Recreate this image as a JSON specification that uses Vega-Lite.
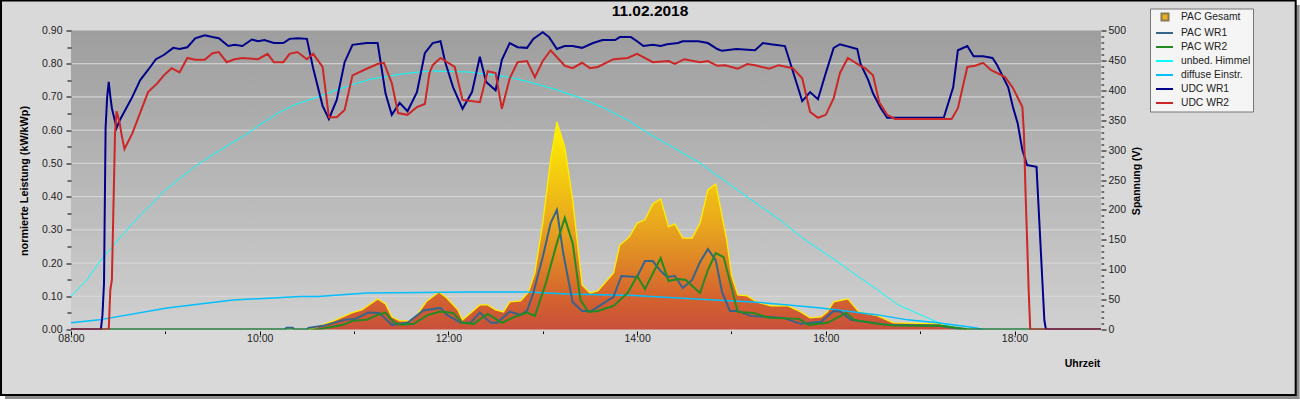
{"$schema":"https://vega.github.io/schema/vega-lite/v6.json","width":1030,"height":299,"autosize":{"type":"none"},"padding":{"left":71,"top":30.5,"right":199,"bottom":70.5},"background":"#ffffff",
"config":{"view":{"stroke":null},"axis":{"domain":false,"grid":false,"tickColor":"#000000","labelColor":"#222222","labelFont":"Liberation Sans","labelFontSize":10.5,"titleFont":"Liberation Sans","titleFontSize":10.5,"titleFontWeight":"bold","titleColor":"#000000","labelOverlap":false,"labelBound":false,"labelFlush":false,"tickCount":100}},
"datasets":{
"grid":[{"g":0.1},{"g":0.2},{"g":0.3},{"g":0.4},{"g":0.5},{"g":0.6},{"g":0.7},{"g":0.8}],
"names":[{"s":"PAC Gesamt"},{"s":"PAC WR1"},{"s":"PAC WR2"},{"s":"unbed. Himmel"},{"s":"diffuse Einstr."},{"s":"UDC WR1"},{"s":"UDC WR2"}],
"pac":[{"t":"2018-02-11T10:32","v":0},{"t":"2018-02-11T10:40","v":0.014},{"t":"2018-02-11T10:47","v":0.026},{"t":"2018-02-11T10:59","v":0.051},{"t":"2018-02-11T11:05","v":0.059},{"t":"2018-02-11T11:15","v":0.092},{"t":"2018-02-11T11:20","v":0.077},{"t":"2018-02-11T11:24","v":0.038},{"t":"2018-02-11T11:29","v":0.026},{"t":"2018-02-11T11:36","v":0.026},{"t":"2018-02-11T11:40","v":0.044},{"t":"2018-02-11T11:46","v":0.084},{"t":"2018-02-11T11:54","v":0.113},{"t":"2018-02-11T11:59","v":0.095},{"t":"2018-02-11T12:06","v":0.059},{"t":"2018-02-11T12:09","v":0.029},{"t":"2018-02-11T12:16","v":0.057},{"t":"2018-02-11T12:20","v":0.074},{"t":"2018-02-11T12:25","v":0.074},{"t":"2018-02-11T12:30","v":0.059},{"t":"2018-02-11T12:35","v":0.053},{"t":"2018-02-11T12:39","v":0.083},{"t":"2018-02-11T12:46","v":0.086},{"t":"2018-02-11T12:51","v":0.113},{"t":"2018-02-11T12:55","v":0.17},{"t":"2018-02-11T13:00","v":0.32},{"t":"2018-02-11T13:05","v":0.51},{"t":"2018-02-11T13:09","v":0.625},{"t":"2018-02-11T13:14","v":0.55},{"t":"2018-02-11T13:19","v":0.39},{"t":"2018-02-11T13:25","v":0.134},{"t":"2018-02-11T13:30","v":0.11},{"t":"2018-02-11T13:35","v":0.116},{"t":"2018-02-11T13:45","v":0.17},{"t":"2018-02-11T13:49","v":0.254},{"t":"2018-02-11T13:55","v":0.278},{"t":"2018-02-11T14:00","v":0.32},{"t":"2018-02-11T14:05","v":0.33},{"t":"2018-02-11T14:10","v":0.378},{"t":"2018-02-11T14:15","v":0.393},{"t":"2018-02-11T14:20","v":0.309},{"t":"2018-02-11T14:24","v":0.318},{"t":"2018-02-11T14:29","v":0.275},{"t":"2018-02-11T14:35","v":0.275},{"t":"2018-02-11T14:40","v":0.32},{"t":"2018-02-11T14:45","v":0.42},{"t":"2018-02-11T14:50","v":0.438},{"t":"2018-02-11T14:57","v":0.269},{"t":"2018-02-11T15:00","v":0.164},{"t":"2018-02-11T15:04","v":0.104},{"t":"2018-02-11T15:10","v":0.101},{"t":"2018-02-11T15:16","v":0.083},{"t":"2018-02-11T15:25","v":0.071},{"t":"2018-02-11T15:36","v":0.071},{"t":"2018-02-11T15:44","v":0.053},{"t":"2018-02-11T15:50","v":0.035},{"t":"2018-02-11T15:57","v":0.038},{"t":"2018-02-11T16:01","v":0.053},{"t":"2018-02-11T16:05","v":0.083},{"t":"2018-02-11T16:14","v":0.092},{"t":"2018-02-11T16:21","v":0.053},{"t":"2018-02-11T16:33","v":0.041},{"t":"2018-02-11T16:43","v":0.02},{"t":"2018-02-11T17:13","v":0.017},{"t":"2018-02-11T17:17","v":0.008},{"t":"2018-02-11T17:26","v":0.002},{"t":"2018-02-11T17:32","v":0}],
"wr1":[{"t":"2018-02-11T08:00","v":0},{"t":"2018-02-11T10:16","v":0},{"t":"2018-02-11T10:17","v":0.005},{"t":"2018-02-11T10:21","v":0.005},{"t":"2018-02-11T10:22","v":0},{"t":"2018-02-11T10:30","v":0},{"t":"2018-02-11T10:31","v":0.005},{"t":"2018-02-11T10:40","v":0.011},{"t":"2018-02-11T10:54","v":0.029},{"t":"2018-02-11T11:01","v":0.032},{"t":"2018-02-11T11:09","v":0.051},{"t":"2018-02-11T11:16","v":0.05},{"t":"2018-02-11T11:24","v":0.014},{"t":"2018-02-11T11:34","v":0.02},{"t":"2018-02-11T11:44","v":0.057},{"t":"2018-02-11T11:55","v":0.065},{"t":"2018-02-11T11:59","v":0.044},{"t":"2018-02-11T12:08","v":0.02},{"t":"2018-02-11T12:14","v":0.02},{"t":"2018-02-11T12:20","v":0.051},{"t":"2018-02-11T12:27","v":0.02},{"t":"2018-02-11T12:31","v":0.02},{"t":"2018-02-11T12:39","v":0.054},{"t":"2018-02-11T12:46","v":0.044},{"t":"2018-02-11T12:50","v":0.056},{"t":"2018-02-11T12:54","v":0.11},{"t":"2018-02-11T13:00","v":0.218},{"t":"2018-02-11T13:05","v":0.32},{"t":"2018-02-11T13:09","v":0.36},{"t":"2018-02-11T13:13","v":0.23},{"t":"2018-02-11T13:19","v":0.083},{"t":"2018-02-11T13:25","v":0.056},{"t":"2018-02-11T13:31","v":0.056},{"t":"2018-02-11T13:45","v":0.098},{"t":"2018-02-11T13:50","v":0.161},{"t":"2018-02-11T14:00","v":0.158},{"t":"2018-02-11T14:05","v":0.206},{"t":"2018-02-11T14:10","v":0.206},{"t":"2018-02-11T14:15","v":0.176},{"t":"2018-02-11T14:19","v":0.158},{"t":"2018-02-11T14:24","v":0.161},{"t":"2018-02-11T14:29","v":0.125},{"t":"2018-02-11T14:35","v":0.149},{"t":"2018-02-11T14:40","v":0.203},{"t":"2018-02-11T14:45","v":0.242},{"t":"2018-02-11T14:50","v":0.209},{"t":"2018-02-11T14:54","v":0.113},{"t":"2018-02-11T14:59","v":0.056},{"t":"2018-02-11T15:04","v":0.056},{"t":"2018-02-11T15:12","v":0.041},{"t":"2018-02-11T15:33","v":0.035},{"t":"2018-02-11T15:44","v":0.017},{"t":"2018-02-11T15:57","v":0.023},{"t":"2018-02-11T16:05","v":0.056},{"t":"2018-02-11T16:09","v":0.054},{"t":"2018-02-11T16:16","v":0.029},{"t":"2018-02-11T16:39","v":0.014},{"t":"2018-02-11T17:13","v":0.011},{"t":"2018-02-11T17:24","v":0.002},{"t":"2018-02-11T17:30","v":0},{"t":"2018-02-11T18:55","v":0}],
"wr2":[{"t":"2018-02-11T08:00","v":0},{"t":"2018-02-11T10:37","v":0},{"t":"2018-02-11T10:53","v":0.014},{"t":"2018-02-11T10:59","v":0.026},{"t":"2018-02-11T11:08","v":0.029},{"t":"2018-02-11T11:15","v":0.044},{"t":"2018-02-11T11:20","v":0.051},{"t":"2018-02-11T11:25","v":0.023},{"t":"2018-02-11T11:29","v":0.014},{"t":"2018-02-11T11:38","v":0.017},{"t":"2018-02-11T11:47","v":0.044},{"t":"2018-02-11T11:55","v":0.054},{"t":"2018-02-11T12:03","v":0.05},{"t":"2018-02-11T12:09","v":0.02},{"t":"2018-02-11T12:16","v":0.017},{"t":"2018-02-11T12:25","v":0.047},{"t":"2018-02-11T12:34","v":0.02},{"t":"2018-02-11T12:41","v":0.036},{"t":"2018-02-11T12:50","v":0.051},{"t":"2018-02-11T12:55","v":0.041},{"t":"2018-02-11T13:02","v":0.14},{"t":"2018-02-11T13:09","v":0.26},{"t":"2018-02-11T13:14","v":0.336},{"t":"2018-02-11T13:19","v":0.26},{"t":"2018-02-11T13:24","v":0.089},{"t":"2018-02-11T13:29","v":0.053},{"t":"2018-02-11T13:35","v":0.056},{"t":"2018-02-11T13:45","v":0.071},{"t":"2018-02-11T13:54","v":0.11},{"t":"2018-02-11T14:00","v":0.161},{"t":"2018-02-11T14:05","v":0.122},{"t":"2018-02-11T14:15","v":0.215},{"t":"2018-02-11T14:20","v":0.146},{"t":"2018-02-11T14:26","v":0.152},{"t":"2018-02-11T14:31","v":0.149},{"t":"2018-02-11T14:40","v":0.11},{"t":"2018-02-11T14:45","v":0.179},{"t":"2018-02-11T14:50","v":0.23},{"t":"2018-02-11T14:55","v":0.218},{"t":"2018-02-11T15:04","v":0.053},{"t":"2018-02-11T15:14","v":0.05},{"t":"2018-02-11T15:24","v":0.035},{"t":"2018-02-11T15:43","v":0.032},{"t":"2018-02-11T15:49","v":0.014},{"t":"2018-02-11T16:01","v":0.02},{"t":"2018-02-11T16:13","v":0.05},{"t":"2018-02-11T16:18","v":0.029},{"t":"2018-02-11T16:33","v":0.017},{"t":"2018-02-11T16:43","v":0.012},{"t":"2018-02-11T17:13","v":0.011},{"t":"2018-02-11T17:28","v":0.002},{"t":"2018-02-11T17:30","v":0},{"t":"2018-02-11T18:55","v":0}],
"sky":[{"t":"2018-02-11T08:00","v":0.1},{"t":"2018-02-11T08:10","v":0.149},{"t":"2018-02-11T08:20","v":0.215},{"t":"2018-02-11T08:40","v":0.324},{"t":"2018-02-11T09:00","v":0.42},{"t":"2018-02-11T09:20","v":0.495},{"t":"2018-02-11T09:30","v":0.525},{"t":"2018-02-11T09:40","v":0.555},{"t":"2018-02-11T09:53","v":0.592},{"t":"2018-02-11T10:00","v":0.616},{"t":"2018-02-11T10:12","v":0.652},{"t":"2018-02-11T10:22","v":0.676},{"t":"2018-02-11T10:37","v":0.7},{"t":"2018-02-11T10:47","v":0.718},{"t":"2018-02-11T11:00","v":0.739},{"t":"2018-02-11T11:11","v":0.754},{"t":"2018-02-11T11:30","v":0.769},{"t":"2018-02-11T11:41","v":0.775},{"t":"2018-02-11T11:50","v":0.778},{"t":"2018-02-11T12:13","v":0.775},{"t":"2018-02-11T12:30","v":0.766},{"t":"2018-02-11T12:41","v":0.757},{"t":"2018-02-11T12:54","v":0.742},{"t":"2018-02-11T13:09","v":0.721},{"t":"2018-02-11T13:24","v":0.697},{"t":"2018-02-11T13:39","v":0.667},{"t":"2018-02-11T13:54","v":0.63},{"t":"2018-02-11T14:06","v":0.594},{"t":"2018-02-11T14:40","v":0.501},{"t":"2018-02-11T15:10","v":0.399},{"t":"2018-02-11T15:30","v":0.333},{"t":"2018-02-11T15:47","v":0.269},{"t":"2018-02-11T16:06","v":0.209},{"t":"2018-02-11T16:21","v":0.158},{"t":"2018-02-11T16:33","v":0.119},{"t":"2018-02-11T16:46","v":0.074},{"t":"2018-02-11T16:59","v":0.047},{"t":"2018-02-11T17:09","v":0.026},{"t":"2018-02-11T17:18","v":0.011},{"t":"2018-02-11T17:25","v":0}],
"diff":[{"t":"2018-02-11T08:00","v":0.02},{"t":"2018-02-11T08:18","v":0.029},{"t":"2018-02-11T09:01","v":0.065},{"t":"2018-02-11T09:43","v":0.089},{"t":"2018-02-11T10:26","v":0.099},{"t":"2018-02-11T10:37","v":0.099},{"t":"2018-02-11T11:08","v":0.11},{"t":"2018-02-11T11:42","v":0.111},{"t":"2018-02-11T12:12","v":0.113},{"t":"2018-02-11T12:50","v":0.113},{"t":"2018-02-11T13:16","v":0.107},{"t":"2018-02-11T13:58","v":0.102},{"t":"2018-02-11T14:26","v":0.095},{"t":"2018-02-11T14:55","v":0.087},{"t":"2018-02-11T15:14","v":0.083},{"t":"2018-02-11T15:36","v":0.074},{"t":"2018-02-11T15:57","v":0.065},{"t":"2018-02-11T16:18","v":0.053},{"t":"2018-02-11T16:33","v":0.044},{"t":"2018-02-11T16:52","v":0.029},{"t":"2018-02-11T17:11","v":0.02},{"t":"2018-02-11T17:35","v":0.005},{"t":"2018-02-11T17:40","v":0}],
"udc1":[{"t":"2018-02-11T08:00","v":0},{"t":"2018-02-11T08:19","v":0},{"t":"2018-02-11T08:20","v":24},{"t":"2018-02-11T08:21","v":78},{"t":"2018-02-11T08:22","v":337},{"t":"2018-02-11T08:23","v":389},{"t":"2018-02-11T08:24","v":414},{"t":"2018-02-11T08:25","v":390},{"t":"2018-02-11T08:26","v":370},{"t":"2018-02-11T08:29","v":337},{"t":"2018-02-11T08:31","v":350},{"t":"2018-02-11T08:39","v":389},{"t":"2018-02-11T08:44","v":417},{"t":"2018-02-11T08:49","v":434},{"t":"2018-02-11T08:54","v":452},{"t":"2018-02-11T08:59","v":459},{"t":"2018-02-11T09:05","v":471},{"t":"2018-02-11T09:09","v":469},{"t":"2018-02-11T09:14","v":472},{"t":"2018-02-11T09:19","v":487},{"t":"2018-02-11T09:25","v":492},{"t":"2018-02-11T09:30","v":489},{"t":"2018-02-11T09:34","v":487},{"t":"2018-02-11T09:40","v":474},{"t":"2018-02-11T09:44","v":476},{"t":"2018-02-11T09:49","v":474},{"t":"2018-02-11T09:55","v":485},{"t":"2018-02-11T09:59","v":482},{"t":"2018-02-11T10:03","v":484},{"t":"2018-02-11T10:09","v":479},{"t":"2018-02-11T10:15","v":479},{"t":"2018-02-11T10:19","v":486},{"t":"2018-02-11T10:24","v":487},{"t":"2018-02-11T10:30","v":486},{"t":"2018-02-11T10:34","v":437},{"t":"2018-02-11T10:40","v":374},{"t":"2018-02-11T10:44","v":352},{"t":"2018-02-11T10:49","v":384},{"t":"2018-02-11T10:54","v":447},{"t":"2018-02-11T10:59","v":476},{"t":"2018-02-11T11:08","v":479},{"t":"2018-02-11T11:15","v":479},{"t":"2018-02-11T11:20","v":395},{"t":"2018-02-11T11:24","v":359},{"t":"2018-02-11T11:29","v":379},{"t":"2018-02-11T11:34","v":365},{"t":"2018-02-11T11:40","v":397},{"t":"2018-02-11T11:45","v":462},{"t":"2018-02-11T11:50","v":479},{"t":"2018-02-11T11:55","v":482},{"t":"2018-02-11T11:58","v":447},{"t":"2018-02-11T12:03","v":405},{"t":"2018-02-11T12:09","v":369},{"t":"2018-02-11T12:15","v":397},{"t":"2018-02-11T12:20","v":456},{"t":"2018-02-11T12:24","v":414},{"t":"2018-02-11T12:30","v":400},{"t":"2018-02-11T12:34","v":451},{"t":"2018-02-11T12:39","v":479},{"t":"2018-02-11T12:44","v":472},{"t":"2018-02-11T12:50","v":471},{"t":"2018-02-11T12:54","v":486},{"t":"2018-02-11T13:00","v":497},{"t":"2018-02-11T13:04","v":489},{"t":"2018-02-11T13:09","v":469},{"t":"2018-02-11T13:14","v":474},{"t":"2018-02-11T13:19","v":474},{"t":"2018-02-11T13:25","v":471},{"t":"2018-02-11T13:32","v":479},{"t":"2018-02-11T13:38","v":484},{"t":"2018-02-11T13:46","v":484},{"t":"2018-02-11T13:49","v":489},{"t":"2018-02-11T13:56","v":489},{"t":"2018-02-11T14:00","v":482},{"t":"2018-02-11T14:04","v":474},{"t":"2018-02-11T14:10","v":476},{"t":"2018-02-11T14:15","v":474},{"t":"2018-02-11T14:19","v":477},{"t":"2018-02-11T14:26","v":479},{"t":"2018-02-11T14:29","v":482},{"t":"2018-02-11T14:39","v":482},{"t":"2018-02-11T14:45","v":479},{"t":"2018-02-11T14:51","v":469},{"t":"2018-02-11T14:54","v":466},{"t":"2018-02-11T15:03","v":469},{"t":"2018-02-11T15:15","v":467},{"t":"2018-02-11T15:20","v":479},{"t":"2018-02-11T15:25","v":477},{"t":"2018-02-11T15:34","v":474},{"t":"2018-02-11T15:45","v":382},{"t":"2018-02-11T15:50","v":397},{"t":"2018-02-11T15:55","v":385},{"t":"2018-02-11T16:00","v":429},{"t":"2018-02-11T16:05","v":471},{"t":"2018-02-11T16:09","v":477},{"t":"2018-02-11T16:20","v":469},{"t":"2018-02-11T16:22","v":445},{"t":"2018-02-11T16:27","v":417},{"t":"2018-02-11T16:30","v":395},{"t":"2018-02-11T16:35","v":370},{"t":"2018-02-11T16:39","v":354},{"t":"2018-02-11T17:15","v":354},{"t":"2018-02-11T17:21","v":405},{"t":"2018-02-11T17:24","v":467},{"t":"2018-02-11T17:30","v":474},{"t":"2018-02-11T17:34","v":457},{"t":"2018-02-11T17:40","v":457},{"t":"2018-02-11T17:46","v":454},{"t":"2018-02-11T17:49","v":442},{"t":"2018-02-11T17:56","v":405},{"t":"2018-02-11T17:59","v":372},{"t":"2018-02-11T18:02","v":345},{"t":"2018-02-11T18:05","v":300},{"t":"2018-02-11T18:08","v":275},{"t":"2018-02-11T18:14","v":272},{"t":"2018-02-11T18:18","v":66},{"t":"2018-02-11T18:19","v":15},{"t":"2018-02-11T18:20","v":0},{"t":"2018-02-11T18:55","v":0}],
"udc2":[{"t":"2018-02-11T08:00","v":0},{"t":"2018-02-11T08:24","v":0},{"t":"2018-02-11T08:25","v":66},{"t":"2018-02-11T08:26","v":83},{"t":"2018-02-11T08:28","v":328},{"t":"2018-02-11T08:29","v":365},{"t":"2018-02-11T08:31","v":345},{"t":"2018-02-11T08:32","v":328},{"t":"2018-02-11T08:34","v":302},{"t":"2018-02-11T08:39","v":328},{"t":"2018-02-11T08:49","v":397},{"t":"2018-02-11T08:55","v":412},{"t":"2018-02-11T08:59","v":425},{"t":"2018-02-11T09:04","v":437},{"t":"2018-02-11T09:09","v":430},{"t":"2018-02-11T09:14","v":454},{"t":"2018-02-11T09:19","v":451},{"t":"2018-02-11T09:25","v":451},{"t":"2018-02-11T09:30","v":462},{"t":"2018-02-11T09:34","v":464},{"t":"2018-02-11T09:39","v":447},{"t":"2018-02-11T09:44","v":452},{"t":"2018-02-11T09:49","v":454},{"t":"2018-02-11T09:59","v":452},{"t":"2018-02-11T10:05","v":461},{"t":"2018-02-11T10:09","v":447},{"t":"2018-02-11T10:15","v":447},{"t":"2018-02-11T10:19","v":461},{"t":"2018-02-11T10:24","v":464},{"t":"2018-02-11T10:30","v":452},{"t":"2018-02-11T10:34","v":461},{"t":"2018-02-11T10:40","v":439},{"t":"2018-02-11T10:44","v":355},{"t":"2018-02-11T10:49","v":355},{"t":"2018-02-11T10:54","v":367},{"t":"2018-02-11T10:59","v":425},{"t":"2018-02-11T11:08","v":436},{"t":"2018-02-11T11:15","v":444},{"t":"2018-02-11T11:19","v":446},{"t":"2018-02-11T11:24","v":412},{"t":"2018-02-11T11:28","v":362},{"t":"2018-02-11T11:34","v":359},{"t":"2018-02-11T11:40","v":372},{"t":"2018-02-11T11:45","v":377},{"t":"2018-02-11T11:48","v":429},{"t":"2018-02-11T11:50","v":442},{"t":"2018-02-11T11:55","v":454},{"t":"2018-02-11T12:04","v":439},{"t":"2018-02-11T12:09","v":384},{"t":"2018-02-11T12:20","v":380},{"t":"2018-02-11T12:25","v":432},{"t":"2018-02-11T12:30","v":429},{"t":"2018-02-11T12:34","v":369},{"t":"2018-02-11T12:39","v":420},{"t":"2018-02-11T12:44","v":447},{"t":"2018-02-11T12:50","v":449},{"t":"2018-02-11T12:55","v":422},{"t":"2018-02-11T13:00","v":449},{"t":"2018-02-11T13:05","v":467},{"t":"2018-02-11T13:14","v":441},{"t":"2018-02-11T13:19","v":437},{"t":"2018-02-11T13:25","v":446},{"t":"2018-02-11T13:30","v":437},{"t":"2018-02-11T13:35","v":439},{"t":"2018-02-11T13:45","v":452},{"t":"2018-02-11T13:54","v":454},{"t":"2018-02-11T14:00","v":461},{"t":"2018-02-11T14:10","v":447},{"t":"2018-02-11T14:20","v":449},{"t":"2018-02-11T14:24","v":444},{"t":"2018-02-11T14:30","v":452},{"t":"2018-02-11T14:40","v":447},{"t":"2018-02-11T14:45","v":449},{"t":"2018-02-11T14:51","v":441},{"t":"2018-02-11T14:56","v":442},{"t":"2018-02-11T15:04","v":436},{"t":"2018-02-11T15:10","v":444},{"t":"2018-02-11T15:15","v":442},{"t":"2018-02-11T15:24","v":436},{"t":"2018-02-11T15:30","v":442},{"t":"2018-02-11T15:39","v":437},{"t":"2018-02-11T15:45","v":420},{"t":"2018-02-11T15:50","v":364},{"t":"2018-02-11T15:55","v":354},{"t":"2018-02-11T16:00","v":359},{"t":"2018-02-11T16:05","v":387},{"t":"2018-02-11T16:09","v":429},{"t":"2018-02-11T16:14","v":454},{"t":"2018-02-11T16:22","v":441},{"t":"2018-02-11T16:25","v":437},{"t":"2018-02-11T16:30","v":425},{"t":"2018-02-11T16:34","v":380},{"t":"2018-02-11T16:39","v":359},{"t":"2018-02-11T16:44","v":352},{"t":"2018-02-11T17:20","v":352},{"t":"2018-02-11T17:24","v":370},{"t":"2018-02-11T17:30","v":439},{"t":"2018-02-11T17:35","v":441},{"t":"2018-02-11T17:40","v":446},{"t":"2018-02-11T17:45","v":434},{"t":"2018-02-11T17:54","v":422},{"t":"2018-02-11T17:59","v":404},{"t":"2018-02-11T18:05","v":372},{"t":"2018-02-11T18:06","v":328},{"t":"2018-02-11T18:07","v":230},{"t":"2018-02-11T18:08","v":150},{"t":"2018-02-11T18:09","v":66},{"t":"2018-02-11T18:10","v":0},{"t":"2018-02-11T18:55","v":0}]
},
"resolve":{"scale":{"y":"independent"}},
"layer":[
{"layer":[
{"data":{"values":[{}]},"mark":{"type":"rect","color":"#8c8c8c"},"encoding":{
"x":{"datum":{"year":2018,"month":2,"date":11,"hours":7,"minutes":18},"type":"temporal"},
"x2":{"datum":{"year":2018,"month":2,"date":11,"hours":21,"minutes":1,"seconds":18}},
"y":{"datum":0.977,"type":"quantitative"},
"y2":{"datum":-0.209}}},
{"data":{"values":[{}]},"mark":{"type":"rect","color":"#d9d9d9","stroke":"#000000","strokeWidth":2},"encoding":{"x":{"datum":{"year":2018,"month":2,"date":11,"hours":7,"minutes":15,"seconds":30},"type":"temporal"},"x2":{"datum":{"year":2018,"month":2,"date":11,"hours":20,"minutes":58,"seconds":48}},"y":{"datum":0.99,"type":"quantitative"},"y2":{"datum":-0.197}}},
{"data":{"values":[{"title":"11.02.2018"}]},"mark":{"type":"text","font":"Liberation Sans","fontSize":15.5,"fontWeight":"bold","color":"#000000","align":"center","baseline":"alphabetic"},"encoding":{"text":{"field":"title","type":"nominal"},"x":{"datum":{"year":2018,"month":2,"date":11,"hours":14,"minutes":8,"seconds":12},"type":"temporal"},"y":{"datum":0.9437,"type":"quantitative"}}},
{"data":{"values":[{}]},"mark":{"type":"rect","color":{"gradient":"linear","x1":0,"y1":0,"x2":0,"y2":1,"stops":[{"offset":0,"color":"#9e9e9e"},{"offset":1,"color":"#d0d0d0"}]}},"encoding":{"x":{"datum":{"year":2018,"month":2,"date":11,"hours":8},"type":"temporal"},"x2":{"datum":{"year":2018,"month":2,"date":11,"hours":18,"minutes":55}},"y":{"datum":0.9,"type":"quantitative"},"y2":{"datum":0}}},
{"data":{"name":"grid"},"mark":{"type":"rule","color":"#d9d9d9","strokeWidth":1},"encoding":{"y":{"field":"g","type":"quantitative","title":"normierte Leistung (kW/kWp)","scale":{"domain":[0,0.9],"nice":false,"zero":false},"axis":{"zindex":1,"orient":"left","values":[0,0.05,0.1,0.15,0.2,0.25,0.3,0.35,0.4,0.45,0.5,0.55,0.6,0.65,0.7,0.75,0.8,0.85,0.9],"labelExpr":"round(datum.value*100)%10==0 ? format(datum.value,'.2f') : ''","tickSize":{"condition":{"test":"round(datum.value*100)%10==0","value":5},"value":4},"labelPadding":4,"titleX":-42,"titleY":150,"titleFontSize":10.8}}}},
{"data":{"name":"pac"},"mark":{"type":"area","opacity":1,"color":{"gradient":"linear","x1":0,"y1":0,"x2":0,"y2":1,"stops":[{"offset":0,"color":"#fff200"},{"offset":0.5,"color":"#e8a61e"},{"offset":0.85,"color":"#d4622f"},{"offset":1,"color":"#c8503a"}]},"line":{"color":"#ffee00","strokeWidth":1.3}},"encoding":{"x":{"field":"t","type":"temporal","title":"Uhrzeit","scale":{"domain":["2018-02-11T08:00:00","2018-02-11T18:55:00"]},"axis":{"zindex":1,"values":["2018-02-11T08:00:00","2018-02-11T09:00:00","2018-02-11T10:00:00","2018-02-11T11:00:00","2018-02-11T12:00:00","2018-02-11T13:00:00","2018-02-11T14:00:00","2018-02-11T15:00:00","2018-02-11T16:00:00","2018-02-11T17:00:00","2018-02-11T18:00:00"],"labelExpr":"hours(datum.value)%2==0 ? timeFormat(datum.value,'%H:%M') : ''","tickSize":{"condition":{"test":"hours(datum.value)%2==0","value":4},"value":2.5},"offset":1.5,"labelPadding":-2,"titleX":1011,"titleY":32,"titleBaseline":"middle"}},"y":{"field":"v","type":"quantitative"},"y2":{"datum":0}}},
{"data":{"name":"sky"},"mark":{"type":"line","clip":true,"color":"#00ffff","strokeWidth":1},"encoding":{"x":{"field":"t","type":"temporal"},"y":{"field":"v","type":"quantitative"}}},
{"data":{"name":"diff"},"mark":{"type":"line","clip":true,"color":"#00bfff","strokeWidth":1.5},"encoding":{"x":{"field":"t","type":"temporal"},"y":{"field":"v","type":"quantitative"}}},
{"data":{"name":"wr1"},"mark":{"type":"line","clip":true,"color":"#36648b","strokeWidth":2},"encoding":{"x":{"field":"t","type":"temporal"},"y":{"field":"v","type":"quantitative"}}},
{"data":{"name":"wr2"},"mark":{"type":"line","clip":true,"color":"#228b22","strokeWidth":2},"encoding":{"x":{"field":"t","type":"temporal"},"y":{"field":"v","type":"quantitative"}}}
]},
{"layer":[
{"data":{"name":"udc1"},"mark":{"type":"line","clip":true,"color":"#00008b","strokeWidth":2},"encoding":{"x":{"field":"t","type":"temporal"},
"y":{"field":"v","type":"quantitative","title":"Spannung (V)","scale":{"domain":[0,500],"nice":false,"zero":false},"axis":{"zindex":1,"orient":"right","values":[0,10,20,30,40,50,60,70,80,90,100,110,120,130,140,150,160,170,180,190,200,210,220,230,240,250,260,270,280,290,300,310,320,330,340,350,360,370,380,390,400,410,420,430,440,450,460,470,480,490,500],"labelExpr":"datum.value%50==0 ? format(datum.value,'d') : ''","tickSize":{"condition":{"test":"datum.value%50==0","value":5},"value":2.7},"labelPadding":2,"titleX":40,"titleY":150,"titleAngle":-90,"titleFontSize":10.5}}}},
{"data":{"name":"udc2"},"mark":{"type":"line","clip":true,"color":"#cd2626","strokeWidth":2},"encoding":{"x":{"field":"t","type":"temporal"},"y":{"field":"v","type":"quantitative"}}}
]},
{"data":{"name":"names"},"mark":{"type":"point","filled":true,"opacity":0,"size":100},"encoding":{
"shape":{"field":"s","type":"nominal","title":null,"scale":{"domain":["PAC Gesamt","PAC WR1","PAC WR2","unbed. Himmel","diffuse Einstr.","UDC WR1","UDC WR2"],"range":["M0.6,-0.7H2V0.7H0.6Z","M-0.5,0H2.9","M-0.5,0H2.9","M-0.5,0H2.9","M-0.5,0H2.9","M-0.5,0H2.9","M-0.5,0H2.9"]},"legend":{"orient":"none","legendX":1079,"legendY":-22,"title":null,"fillColor":"#f5f5f5","strokeColor":"#777777","padding":2.5,"rowPadding":2,"symbolSize":100,"symbolOpacity":1,"symbolStrokeWidth":2,"labelFont":"Liberation Sans","labelFontSize":10.3,"labelColor":"#222222","labelOffset":16.5,"labelLimit":200}},
"fill":{"field":"s","type":"nominal","title":null,"scale":{"domain":["PAC Gesamt","PAC WR1","PAC WR2","unbed. Himmel","diffuse Einstr.","UDC WR1","UDC WR2"],"range":["#eeb020","#36648b","#228b22","#00ffff","#00bfff","#00008b","#cd2626"]}},
"stroke":{"field":"s","type":"nominal","title":null,"scale":{"domain":["PAC Gesamt","PAC WR1","PAC WR2","unbed. Himmel","diffuse Einstr.","UDC WR1","UDC WR2"],"range":["#8a7a50","#36648b","#228b22","#00ffff","#00bfff","#00008b","#cd2626"]}}}}
]}
